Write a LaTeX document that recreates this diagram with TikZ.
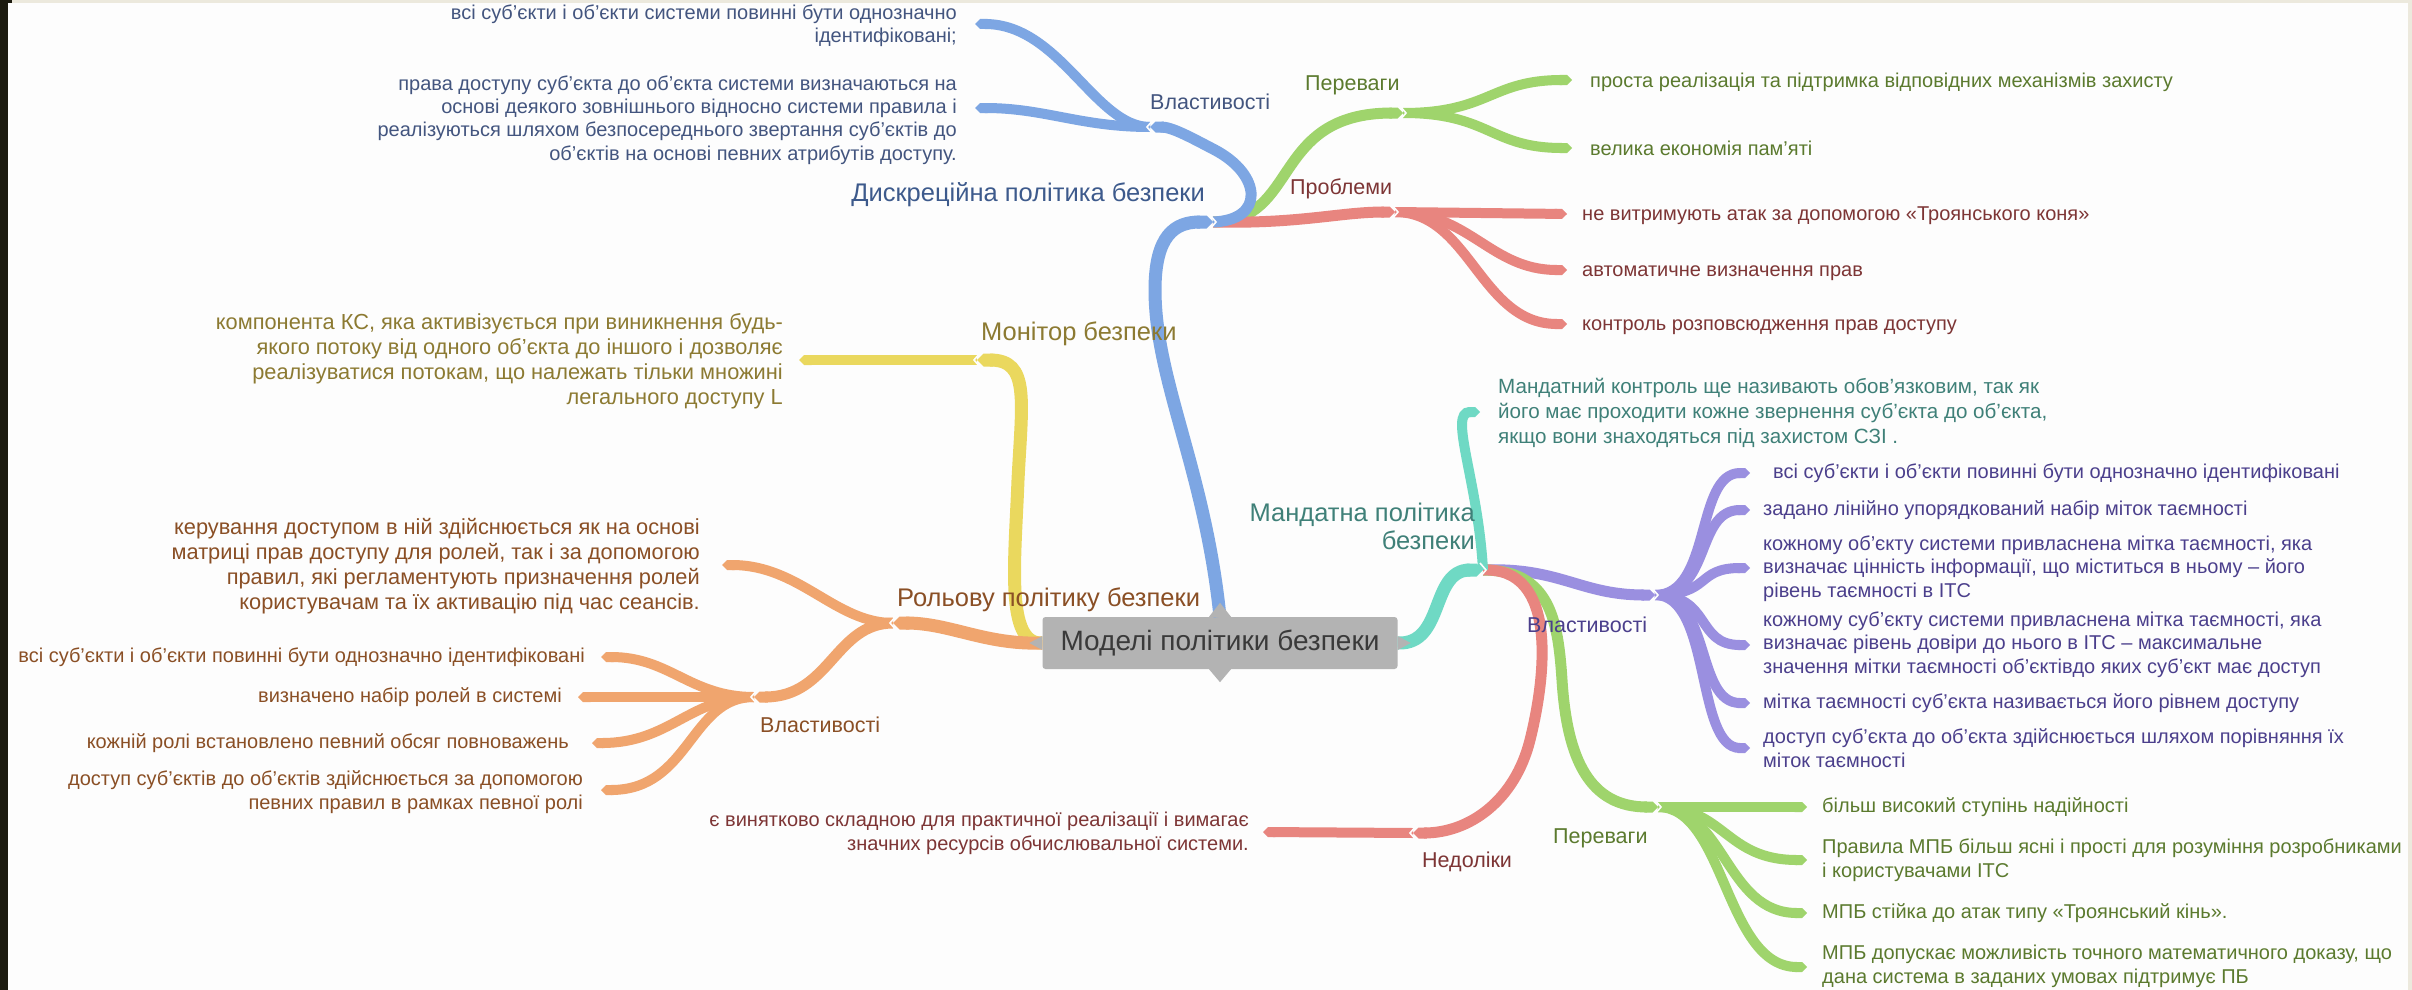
\documentclass[tikz,border=0pt]{standalone}
\usepackage{fontspec}
\setmainfont{Liberation Sans}
\usetikzlibrary{arrows.meta}
\definecolor{bluebranch}{HTML}{7DA6E3}
\definecolor{greenbranch}{HTML}{9FD46C}
\definecolor{redbranch}{HTML}{E8857F}
\definecolor{yellowbranch}{HTML}{EAD85E}
\definecolor{orangebranch}{HTML}{F0A56E}
\definecolor{tealbranch}{HTML}{6FD9C4}
\definecolor{purplebranch}{HTML}{9A8FE0}
\definecolor{rootgray}{HTML}{B3B3B3}
\definecolor{roottext}{HTML}{3A3A3A}
\definecolor{bluelabel}{HTML}{3D5A8C}
\definecolor{bluetext}{HTML}{43557F}
\definecolor{greentext}{HTML}{5B7A2E}
\definecolor{redtext}{HTML}{7D3535}
\definecolor{yellowtext}{HTML}{8C7A32}
\definecolor{orangetext}{HTML}{8A4F25}
\definecolor{tealtext}{HTML}{3F8078}
\definecolor{purpletext}{HTML}{4B3F8C}
\definecolor{paper}{HTML}{FDFDFD}
\definecolor{frameleft}{HTML}{1C1B10}
\definecolor{frametop}{HTML}{ECE9DD}
\tikzset{
  trunk/.style={line width=13pt, -{Triangle Cap}},
  twig/.style={line width=11pt, -{Triangle Cap}},
  leafline/.style={line width=10pt, -{Triangle Cap}},
  leaftext/.style={inner sep=0pt, font=\fontsize{20}{23.3}\selectfont},
  bigleaftext/.style={inner sep=0pt, font=\fontsize{21.8}{25}\selectfont},
  sublabel/.style={inner sep=0pt, font=\fontsize{21.5}{26}\selectfont},
  mainlabel/.style={inner sep=0pt, font=\fontsize{25.5}{28}\selectfont},
  rootbox/.style={fill=rootgray, text=roottext, rounded corners=3pt, inner sep=0pt,
    minimum width=355pt, minimum height=52pt, font=\fontsize{28}{32}\selectfont},
  notch/.pic={\draw[paper, line width=1.6pt] (-3,-7) -- (3,0) -- (-3,7);}
}

\begin{document}
\begin{tikzpicture}[x=1pt, y=-1pt]
    % Page and frame
    \useasboundingbox (0,0) rectangle (2412,990);
    \fill[paper] (0,0) rectangle (2412,990);
    \fill[frameleft] (0,0) rectangle (8,990);
    \fill[frameleft] (0,0) rectangle (12,3);
    \fill[frametop] (12,0) rectangle (2412,3);
    \fill[frametop] (2408,0) rectangle (2412,990);

    % Root
    \node[rootbox] (root) at (1220,643) {Моделі політики безпеки};

    % Junctions
    \coordinate (dpb) at (1213,222);
    \coordinate (dpbprop) at (1150,127);
    \coordinate (dpbpro) at (1403,113);
    \coordinate (dpbcon) at (1395,212);
    \coordinate (mon) at (977,360);
    \coordinate (rol) at (893,623);
    \coordinate (rolprop) at (754,697);
    \coordinate (man) at (1483,570);
    \coordinate (manprop) at (1655,595);
    \coordinate (mancon) at (1413,833);
    \coordinate (manpro) at (1658,807);

    % Discretionary policy: advantages and problems
    \coordinate (dpbpro1) at (1572,80);
    \coordinate (dpbpro2) at (1572,148);
    \draw[twig, greenbranch] (dpb) .. controls (1300,222) and (1270,113) .. (dpbpro);
    \draw[leafline, greenbranch] (dpbpro) .. controls (1490,113) and (1490,80) .. (dpbpro1);
    \draw[leafline, greenbranch] (dpbpro) .. controls (1490,113) and (1490,148) .. (dpbpro2);
    \coordinate (dpbcon1) at (1567,214);
    \coordinate (dpbcon2) at (1567,270);
    \coordinate (dpbcon3) at (1567,324);
    \draw[twig, redbranch] (dpb) .. controls (1300,224) and (1340,212) .. (dpbcon);
    \draw[leafline, redbranch] (dpbcon) -- (dpbcon1);
    \draw[leafline, redbranch] (dpbcon) .. controls (1470,212) and (1490,270) .. (dpbcon2);
    \draw[leafline, redbranch] (dpbcon) .. controls (1470,212) and (1480,324) .. (dpbcon3);

    % Discretionary policy: trunk and properties
    \draw[trunk, bluebranch] (root.north) .. controls (1205,470) and (1155,380) .. (1155,290)
        .. controls (1155,235) and (1175,222) .. (dpb);
    \coordinate (dpbprop1) at (975,24);
    \coordinate (dpbprop2) at (975,108);
    \draw[twig, bluebranch] (dpb) .. controls (1265,220) and (1262,175) .. (1215,150)
        .. controls (1190,137) and (1172,127) .. (dpbprop);
    \draw[leafline, bluebranch] (dpbprop) .. controls (1095,127) and (1060,24) .. (dpbprop1);
    \draw[leafline, bluebranch] (dpbprop) .. controls (1080,127) and (1045,108) .. (dpbprop2);

    % Security monitor
    \coordinate (mon1) at (799,360);
    \draw[trunk, yellowbranch] (root.west) .. controls (1005,645) and (1015,560) .. (1018,480)
        .. controls (1022,400) and (1030,360) .. (mon);
    \draw[leafline, yellowbranch] (mon) -- (mon1);

    % Role policy
    \coordinate (rol1) at (722,565);
    \draw[trunk, orangebranch] (root.west) .. controls (985,645) and (950,623) .. (rol);
    \draw[leafline, orangebranch] (rol) .. controls (835,623) and (800,565) .. (rol1);
    \draw[twig, orangebranch] (rol) .. controls (835,623) and (830,697) .. (rolprop);
    \coordinate (rolprop1) at (601,657);
    \coordinate (rolprop2) at (578,697);
    \coordinate (rolprop3) at (592,743);
    \coordinate (rolprop4) at (601,790);
    \draw[leafline, orangebranch] (rolprop) .. controls (690,697) and (670,657) .. (rolprop1);
    \draw[leafline, orangebranch] (rolprop) -- (rolprop2);
    \draw[leafline, orangebranch] (rolprop) .. controls (690,697) and (670,743) .. (rolprop3);
    \draw[leafline, orangebranch] (rolprop) .. controls (690,697) and (690,790) .. (rolprop4);

    % Mandatory policy
    \draw[twig, purplebranch] (man) .. controls (1560,567) and (1580,595) .. (manprop);
    \foreach \i/\y in {1/473, 2/510, 3/568, 4/645, 5/703, 6/748} {
        \coordinate (manprop\i) at (1750,\y);
        \draw[leafline, purplebranch] (manprop) .. controls (1712,595) and (1695,\y) .. (manprop\i);
    }
    \draw[twig, greenbranch] (man) .. controls (1550,570) and (1558,620) .. (1562,680)
        .. controls (1567,760) and (1590,807) .. (manpro);
    \foreach \i/\y in {1/807, 2/860, 3/913, 4/967} {
        \coordinate (manpro\i) at (1807,\y);
        \draw[leafline, greenbranch] (manpro) .. controls (1725,807) and (1725,\y) .. (manpro\i);
    }
    \coordinate (mancon1) at (1263,832);
    \draw[twig, redbranch] (man) .. controls (1560,567) and (1545,680) .. (1530,740)
        .. controls (1515,800) and (1470,833) .. (mancon);
    \draw[leafline, redbranch] (mancon) -- (mancon1);
    \coordinate (man1) at (1480,412);
    \draw[leafline, tealbranch] (man) .. controls (1478,480) and (1448,412) .. (man1);
    \draw[trunk, tealbranch] (root.east) .. controls (1445,645) and (1430,570) .. (man);

    % Notches at the junctions
    \foreach \j in {dpb, dpbpro, dpbcon, man, manprop, manpro}
        \pic at (\j) {notch};
    \foreach \j in {dpbprop, mon, rol, rolprop, mancon}
        \pic[rotate=180] at (\j) {notch};

    % Root tips
    \fill[rootgray] ([xshift=-11pt]root.north) -- ([yshift=14pt]root.north) -- ([xshift=11pt]root.north) -- cycle;
    \fill[rootgray] ([xshift=-11pt]root.south) -- ([yshift=-13pt]root.south) -- ([xshift=11pt]root.south) -- cycle;
    \fill[rootgray] ([yshift=7pt]root.west) -- ([xshift=-13pt]root.west) -- ([yshift=-7pt]root.west) -- cycle;
    \fill[rootgray] ([yshift=7pt]root.east) -- ([xshift=13pt]root.east) -- ([yshift=-7pt]root.east) -- cycle;

    % Branch labels (base of multi-line nodes = last line)
    \node[mainlabel, text=bluelabel, anchor=base east] (dpbl) at (1205,201) {Дискреційна політика безпеки};
    \node[sublabel, text=bluetext, anchor=base west] (dpbpropl) at (1150,109) {Властивості};
    \node[sublabel, text=greentext, anchor=base west] (dpbprol) at (1305,91) {Переваги};
    \node[sublabel, text=redtext, anchor=base west] (dpbconl) at (1290,194) {Проблеми};
    \node[mainlabel, text=yellowtext, anchor=base west] (monl) at (981,340) {Монітор безпеки};
    \node[mainlabel, text=orangetext, anchor=base west] (roll) at (897,606) {Рольову політику безпеки};
    \node[sublabel, text=orangetext, anchor=base west] (rolpropl) at (760,732) {Властивості};
    \node[mainlabel, text=tealtext, align=right, anchor=base east] (manl) at (1475,549) {Мандатна політика\\безпеки};
    \node[sublabel, text=purpletext, anchor=base west] (manpropl) at (1527,632) {Властивості};
    \node[sublabel, text=redtext, anchor=base west] (manconl) at (1422,867) {Недоліки};
    \node[sublabel, text=greentext, anchor=base west] (manprol) at (1553,843) {Переваги};

    % Leaf texts
    \node[leaftext, text=bluetext, align=right, anchor=base east] (dpbpropt1) at (957,43)
        {всі суб’єкти і об’єкти системи повинні бути однозначно\\ідентифіковані;};
    \node[leaftext, text=bluetext, align=right, anchor=base east] (dpbpropt2) at (957,160)
        {права доступу суб’єкта до об’єкта системи визначаються на\\основі деякого зовнішнього відносно системи правила і\\реалізуються шляхом безпосереднього звертання суб’єктів до\\об’єктів на основі певних атрибутів доступу.};
    \node[leaftext, text=greentext, anchor=base west] (dpbprot1) at (1590,88) {проста реалізація та підтримка відповідних механізмів захисту};
    \node[leaftext, text=greentext, anchor=base west] (dpbprot2) at (1590,155) {велика економія пам’яті};
    \node[leaftext, text=redtext, anchor=base west] (dpbcont1) at (1582,220) {не витримують атак за допомогою «Троянського коня»};
    \node[leaftext, text=redtext, anchor=base west] (dpbcont2) at (1582,276) {автоматичне визначення прав};
    \node[leaftext, text=redtext, anchor=base west] (dpbcont3) at (1582,330) {контроль розповсюдження прав доступу};
    \node[bigleaftext, text=yellowtext, align=right, anchor=base east] (mont1) at (783,404)
        {компонента КС, яка активізується при виникнення будь-\\якого потоку від одного об’єкта до іншого і дозволяє\\реалізуватися потокам, що належать тільки множині\\легального доступу L};
    \node[bigleaftext, text=orangetext, align=right, anchor=base east] (rolt1) at (700,609)
        {керування доступом в ній здійснюється як на основі\\матриці прав доступу для ролей, так і за допомогою\\правил, які регламентують призначення ролей\\користувачам та їх активацію під час сеансів.};
    \node[leaftext, text=orangetext, anchor=base east] (rolpropt1) at (585,662) {всі суб’єкти і об’єкти повинні бути однозначно ідентифіковані};
    \node[leaftext, text=orangetext, anchor=base east] (rolpropt2) at (562,702) {визначено набір ролей в системі};
    \node[leaftext, text=orangetext, anchor=base east] (rolpropt3) at (569,748) {кожній ролі встановлено певний обсяг повноважень};
    \node[leaftext, text=orangetext, align=right, anchor=base east] (rolpropt4) at (583,809)
        {доступ суб’єктів до об’єктів здійснюється за допомогою\\певних правил в рамках певної ролі};
    \node[leaftext, text=tealtext, font=\fontsize{20.6}{25}\selectfont, align=left, anchor=base west] (mant1) at (1498,443)
        {Мандатний контроль ще називають обов’язковим, так як\\його має проходити кожне звернення суб’єкта до об’єкта,\\якщо вони знаходяться під захистом СЗІ .};
    \node[leaftext, text=purpletext, anchor=base west] (manpropt1) at (1773,478) {всі суб’єкти і об’єкти повинні бути однозначно ідентифіковані};
    \node[leaftext, text=purpletext, anchor=base west] (manpropt2) at (1763,515) {задано лінійно упорядкований набір міток таємності};
    \node[leaftext, text=purpletext, align=left, anchor=base west] (manpropt3) at (1763,597)
        {кожному об’єкту системи привласнена мітка таємності, яка\\визначає цінність інформації, що міститься в ньому – його\\рівень таємності в ІТС};
    \node[leaftext, text=purpletext, align=left, anchor=base west] (manpropt4) at (1763,673)
        {кожному суб’єкту системи привласнена мітка таємності, яка\\визначає рівень довіри до нього в ІТС – максимальне\\значення мітки таємності об’єктівдо яких суб’єкт має доступ};
    \node[leaftext, text=purpletext, anchor=base west] (manpropt5) at (1763,708) {мітка таємності суб’єкта називається його рівнем доступу};
    \node[leaftext, text=purpletext, align=left, anchor=base west] (manpropt6) at (1763,767)
        {доступ суб’єкта до об’єкта здійснюється шляхом порівняння їх\\міток таємності};
    \node[leaftext, text=redtext, align=right, anchor=base east] (mancont1) at (1249,850)
        {є винятково складною для практичної реалізації і вимагає\\значних ресурсів обчислювальної системи.};
    \node[leaftext, text=greentext, anchor=base west] (manprot1) at (1822,812) {більш високий ступінь надійності};
    \node[leaftext, text=greentext, align=left, anchor=base west] (manprot2) at (1822,877)
        {Правила МПБ більш ясні і прості для розуміння розробниками\\і користувачами ІТС};
    \node[leaftext, text=greentext, anchor=base west] (manprot3) at (1822,918) {МПБ стійка до атак типу «Троянський кінь».};
    \node[leaftext, text=greentext, align=left, anchor=base west] (manprot4) at (1822,983)
        {МПБ допускає можливість точного математичного доказу, що\\дана система в заданих умовах підтримує ПБ};
\end{tikzpicture}
\end{document}
